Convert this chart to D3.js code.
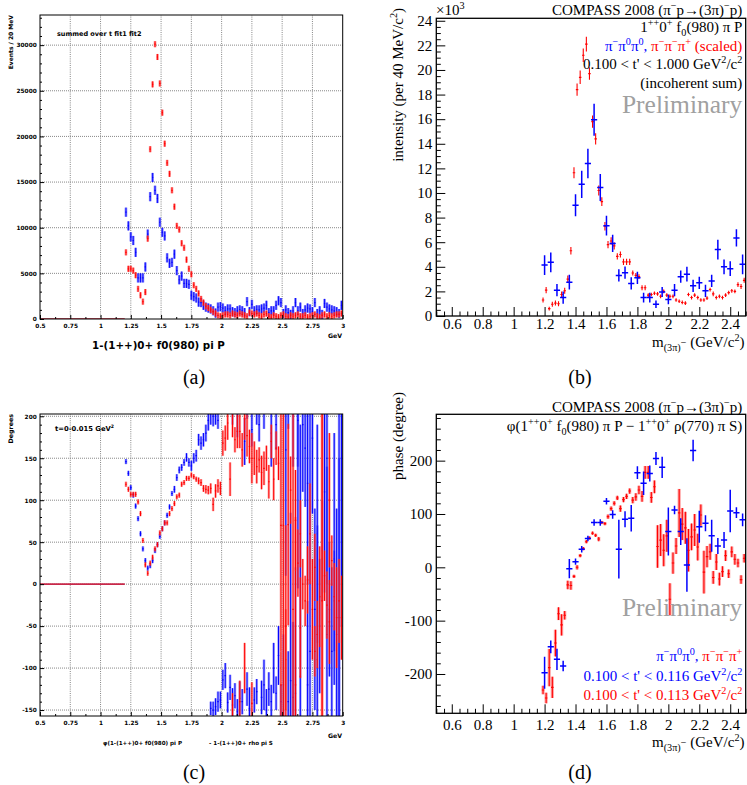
<!DOCTYPE html>
<html><head><meta charset="utf-8">
<script src="https://cdn.jsdelivr.net/npm/d3@7"></script>
<style>body{margin:0;background:#fff;} svg{display:block;}</style>
</head><body>
<script>
// ================= DATA =================
// Panel (a): intensity, 20 MeV bins starting at 1.21 GeV (values in thousands of events)
const binA = {start: 1.21, width: 0.02};
const aBlue = [11.7,10.2,9.0,8.6,7.3,4.5,4.5,4.5,5.7,9.3,
  13.4,15.5,14.1,13.2,10.6,9.5,9.1,6.7,6.1,6.2,
  7.1,5.3,4.3,4.7,3.9,3.9,3.8,2.6,2.45,2.3,
  1.85,1.8,1.5,1.3,1.2,1.1,0.9,0.65,1.3,1.35,
  1.2,0.9,1.1,1.1,0.8,0.7,0.9,1.0,0.9,0.7,
  1.9,0.8,1.6,0.9,1.0,1.0,1.1,1.2,1.5,0.7,
  0.9,0.9,1.5,2.0,1.8,0.6,1.0,0.7,0.5,0.9,
  1.8,0.9,1.3,0.6,1.0,1.2,1.1,0.8,1.8,0.6,
  0.9,0.5,1.7,1.3,1.1,1.0,0.9,0.8,0.6,1.5];
const aRed = [7.3,5.5,5.5,5.3,4.8,3.3,2.6,1.9,2.95,8.8,
  18.6,25.7,30.1,28.7,25.8,22.6,19.2,17.1,15.9,14.1,
  12.3,10.2,9.8,8.3,7.8,6.5,5.5,4.9,3.7,3.3,
  2.8,2.2,1.8,1.4,1.2,1.0,0.8,0.6,0.4,0.3,
  0.4,0.5,0.5,0.4,0.6,0.5,0.4,0.6,0.5,0.4,
  0.3,0.7,0.6,0.5,0.6,0.4,0.3,0.5,0.6,0.3,
  0.2,0.4,0.3,0.2,0.4,0.5,0.3,0.2,0.4,0.3,
  0.4,0.5,0.3,0.3,0.4,0.2,0.3,0.4,0.5,0.3,
  0.2,0.4,0.5,0.3,0.4,0.3,0.4,0.5,0.5,0.6];
const aBlueErr = 0.5, aRedErr = 0.33;
const zeroRange = [0.5, 1.2];
const rootXTicks = [0.5,0.75,1,1.25,1.5,1.75,2,2.25,2.5,2.75,3];
const rootXMinor = [0.625,0.875,1.125,1.375,1.625,1.875,2.125,2.375,2.625,2.875];
const aYTicks = [0,5,10,15,20,25,30];
const aYMinor = [1,2,3,4,6,7,8,9,11,12,13,14,16,17,18,19,21,22,23,24,26,27,28,29,31,32,33];

// Panel (c): phase, same 20 MeV bins (degrees)
const cBlue = [146,132,115,106,93,78,60,42,28,19,
  22,28,40,47,57,66,73,82,92,108,
  113,127,136,139,145,151,145,141,150,153,
  172,168,172,180,195,-148,-150,-146,-140,-138,
  -114,-109,-141,-123,-144,-133,-152,-136,-140,170,
  -125,-148,184,-138,-128,190,-135,-120,-150,-125,
  -140,-100,-130,-85,-140,-120,160,-140,-115,-135,
  -130,195,-110,190,162,-120,-80,174,-30,-90,
  -50,40,110,-60,-30,-80,-20,-60,-40,150];
const cBlueErr = [3,3,3,3,3,3,3,3,3,3,
  3,3,3,3,3,3,3,3,3,3,
  4,4,4,4,4,5,5,6,6,7,
  7,8,8,10,12,8,10,10,12,10,
  12,15,12,15,20,15,15,20,15,28,
  20,25,20,15,15,20,20,30,25,20,
  20,30,20,35,20,60,150,60,200,90,
  150,200,300,80,70,100,300,90,120,160,
  80,60,120,200,80,100,60,150,300,200];
const cRed = [119,113,107,107,107,98,84,52,23,13,
  25,32,42,47,61,66,73,73,84,90,
  96,104,106,119,121,126,126,130,128,125,
  123,121,114,113,112,114,95,111,117,114,
  168,174,192,125,200,172,182,182,160,197,
  177,164,150,150,140,148,133,138,150,122,
  170,125,162,144,-120,70,-50,71,112,-30,
  76,25,-52,0,-20,5,60,-30,20,-60,
  -15,-20,10,-25,-45,28,-15,-40,-20,-40];
const cRedErr = [3,3,3,3,3,3,3,3,3,3,
  3,3,3,3,3,3,3,3,3,3,
  3,3,3,3,3,3,3,3,3,3,
  4,4,4,5,5,6,8,8,8,8,
  15,15,20,20,25,15,20,20,20,25,
  25,20,30,20,20,15,20,20,15,20,
  20,25,20,20,40,250,120,120,40,250,
  60,40,60,30,30,40,60,60,40,40,
  60,250,30,40,50,30,40,60,50,50];
const cBlueExtraMass = [1.91,1.93,1.95,1.97,2.09,2.13,2.21,2.29,2.35,2.41,2.45,2.55,2.59,2.63,2.71,2.79,2.87,2.93,2.97];
const cBlueExtraVal  = [205,200,210,195,215,205,212,205,215,180,190,215,200,220,120,60,150,30,-20];
const cBlueExtraErr  = [15,12,20,10,25,30,15,15,30,40,30,30,60,80,120,130,150,150,170];
const cRedExtraMass = [2.09,2.15,2.19,2.25,2.49,2.53,2.61,2.65,2.77,2.83,2.89];
const cRedExtraVal  = [-150,-140,-100,-142,70,-90,-120,60,-80,30,100];
const cRedExtraErr  = [20,25,30,25,150,60,200,40,30,250,80];
const cYTicks = [-150,-100,-50,0,50,100,150,200];
const cYMinor = [-140,-130,-120,-110,-90,-80,-70,-60,-40,-30,-20,-10,10,20,30,40,60,70,80,90,110,120,130,140,160,170,180,190];

// Panels (b),(d): blue = pi- pi0 pi0 (40 MeV bins from 1.20), red = pi- pi- pi+ (20 MeV bins from 1.19)
const binBlue = {start: 1.20, width: 0.04};
const binRed  = {start: 1.19, width: 0.02};
const bBlue = [4.14,4.36,2.1,1.5,2.75,9.0,10.7,12.4,15.95,10.45,7.34,5.9,3.3,3.52,2.65,3.1,1.5,1.5,0.95,1.95,1.35,2.1,3.2,3.4,2.45,2.7,2.05,2.85,5.4,4.0,3.85,6.35,4.2];
const bBlueErr = [0.8,0.8,0.5,0.5,0.6,0.9,1.1,1.2,1.3,1.1,0.8,0.7,0.5,0.5,0.5,0.5,0.4,0.4,0.3,0.4,0.4,0.5,0.5,0.6,0.5,0.5,0.5,0.5,0.8,0.6,0.6,0.7,0.8];
const bRed = [1.3,2.1,0.6,0.95,1.05,1.0,1.75,2.05,3.0,5.3,
  11.65,18.4,19.4,21.2,22.1,19.7,15.8,14.4,10.2,9.3,
  7.3,5.8,6.1,5.7,4.85,5.0,4.4,4.4,4.4,3.5,
  3.3,3.2,2.3,2.3,1.7,1.75,1.85,1.8,1.6,2.0,
  1.7,1.6,1.6,1.3,1.2,1.1,1.05,1.75,1.5,1.7,
  1.5,1.3,1.3,1.45,2.15,1.8,1.5,1.6,1.5,1.7,
  1.9,2.05,2.0,2.55,2.4,2.9];
const bRedErr = [0.2,0.25,0.15,0.2,0.2,0.2,0.25,0.25,0.3,0.3,
  0.45,0.5,0.55,0.55,0.6,0.5,0.5,0.45,0.4,0.35,
  0.35,0.3,0.3,0.3,0.25,0.25,0.25,0.25,0.25,0.2,
  0.2,0.2,0.2,0.2,0.15,0.15,0.15,0.15,0.15,0.15,
  0.15,0.15,0.15,0.15,0.15,0.15,0.15,0.15,0.15,0.15,
  0.15,0.15,0.15,0.15,0.15,0.2,0.15,0.15,0.15,0.15,
  0.15,0.15,0.15,0.2,0.2,0.2];
const dBlue = [-197.5,-149,-172.5,-185,-2.5,10.6,34,54,84,84,124,99,34,90,92,177.5,157.5,176,204,187.5,67,107.5,67,4.4,219,76,82.5,59,40,51,105.6,102.5,89];
const dBlueErr = [30,12,20,10,18,6,6,5,6,6,6,8,55,15,25,12,22,15,12,20,45,8,25,50,20,30,15,30,15,15,40,10,12];
const dRed = [-230,-245,-188,-225,-142,-87,-108,-90,-33,-34,
  -17,0,22,35,48,55,64,60,53,84,
  82,95,110,120,130,110,127,133,143,126,
  132,145,133,178,178,131,151,39,51,32,
  59,-60,8,40,102,81,74,32,57,70,
  38,98,-9,20,29,-19,10,-22,-8,22,
  -12,29,15,8,-23,17];
const dRedErr = [8,10,35,20,25,12,20,8,8,8,
  3,4,3,3,3,3,3,3,4,3,
  3,4,4,4,4,6,5,5,5,6,
  7,8,10,12,12,10,12,40,30,30,
  30,30,20,15,45,30,30,40,25,30,
  25,20,40,20,15,12,15,12,10,10,
  8,10,10,8,8,8];
const bdXTicks = [0.6,0.8,1,1.2,1.4,1.6,1.8,2,2.2,2.4];
const bdXMinor = [0.5,0.55,0.65,0.7,0.75,0.85,0.9,0.95,1.05,1.1,1.15,1.25,1.3,1.35,1.45,1.5,1.55,1.65,1.7,1.75,1.85,1.9,1.95,2.05,2.1,2.15,2.25,2.3,2.35,2.45,2.5];
const bYTicks = [0,2,4,6,8,10,12,14,16,18,20,22,24];
const bYMinor = [0.5,1,1.5,2.5,3,3.5,4.5,5,5.5,6.5,7,7.5,8.5,9,9.5,10.5,11,11.5,12.5,13,13.5,14.5,15,15.5,16.5,17,17.5,18.5,19,19.5,20.5,21,21.5,22.5,23,23.5];
const dYTicks = [-200,-100,0,100,200];
const dYMinor = [-260,-240,-220,-180,-160,-140,-120,-80,-60,-40,-20,20,40,60,80,120,140,160,180,220,240,260,280];

// ================= DRAWING =================
const W = 747, H = 785;
const SERIF = "'Liberation Serif','Times New Roman',serif";
const SANS = "'DejaVu Sans',sans-serif";
const BLUE = '#0000ff', RED = '#ff0000';
const svg = d3.select('body').append('svg').attr('width', W).attr('height', H)
  .style('background', '#fff');
const defs = svg.append('defs');

function pts(bin, vals, errs) {
  return vals.map((v, i) => ({m: bin.start + bin.width * i, v, e: Array.isArray(errs) ? errs[i] : errs}));
}
function ptsM(ms, vals, errs) { return vals.map((v, i) => ({m: ms[i], v, e: errs[i]})); }

function clipG(id, xs, ys) {
  const [x0, x1] = xs.range(), [y0, y1] = ys.range();
  defs.append('clipPath').attr('id', id).append('rect')
    .attr('x', x0).attr('y', y1).attr('width', x1 - x0).attr('height', y0 - y1);
  return svg.append('g').attr('clip-path', `url(#${id})`);
}

function drawPts(g, xs, ys, data, st) {
  const gg = g.append('g');
  if (st.light) gg.selectAll(null).data(data).join('rect')
    .attr('x', d => xs(d.m) - st.bandW / 2).attr('width', st.bandW)
    .attr('y', d => ys(d.v + d.e)).attr('height', d => Math.max(0.6, ys(d.v - d.e) - ys(d.v + d.e)))
    .attr('fill', st.light).attr('opacity', st.lightOp || 1);
  gg.selectAll(null).data(data).join('line')
    .attr('x1', d => xs(d.m)).attr('x2', d => xs(d.m))
    .attr('y1', d => ys(d.v + d.e)).attr('y2', d => ys(d.v - d.e))
    .attr('stroke', st.color).attr('stroke-width', st.lw);
  if (st.hw) gg.selectAll(null).data(data).join('line')
    .attr('x1', d => xs(d.m - st.hw)).attr('x2', d => xs(d.m + st.hw))
    .attr('y1', d => ys(d.v)).attr('y2', d => ys(d.v))
    .attr('stroke', st.color).attr('stroke-width', st.hlw || st.lw);
}

function rich(x, y, segs, o) {
  const t = svg.append('text').attr('x', x).attr('y', y)
    .attr('text-anchor', o.anchor || 'start').attr('font-family', o.family)
    .attr('font-size', o.size).attr('fill', o.fill || '#000');
  if (o.weight) t.attr('font-weight', o.weight);
  if (o.rotate) t.attr('transform', `rotate(${o.rotate},${x},${y})`);
  let cur = 0;
  segs.forEach(s => {
    const seg = typeof s === 'string' ? {t: s} : s;
    let target = seg.sup ? -o.size * 0.4 : seg.sub ? o.size * 0.25 : 0;
    if (seg.shift != null) target = seg.shift * o.size;
    const ts = t.append('tspan').text(seg.t).attr('dy', target - cur);
    cur = target;
    if (seg.sup || seg.sub || seg.small) ts.attr('font-size', o.size * 0.68);
    if (seg.fill) ts.attr('fill', seg.fill);
  });
  return t;
}
const SUP = (s, fill) => ({t: s, sup: true, fill});
const SUB = (s, fill) => ({t: s, sub: true, fill});
const T = (s, fill) => ({t: s, fill});

// ---------- ROOT style panels (a), (c) ----------
function rootGrid(xs, ys, yTicks) {
  const [x0, x1] = xs.range(), [y0, y1] = ys.range();
  const g = svg.append('g');
  g.selectAll(null).data(rootXTicks.filter(v => xs(v) > x0 + 1 && xs(v) < x1 - 1)).join('line')
    .attr('x1', d => xs(d)).attr('x2', d => xs(d)).attr('y1', y0).attr('y2', y1)
    .attr('stroke', '#666').attr('stroke-width', 0.8).attr('stroke-dasharray', '1,1.2');
  g.selectAll(null).data(yTicks.filter(v => ys(v) < y0 - 1 && ys(v) > y1 + 0.5)).join('line')
    .attr('x1', x0).attr('x2', x1).attr('y1', d => ys(d)).attr('y2', d => ys(d))
    .attr('stroke', '#888').attr('stroke-width', 1).attr('stroke-dasharray', '1,1');
}
function rootAxes(xs, ys, yTicks, yMinor, yFmt, xPad) {
  const [x0, x1] = xs.range(), [y0, y1] = ys.range();
  const style = s => s.attr('font-family', SANS).attr('font-weight', 'bold').attr('font-size', 5.8)
    .call(q => q.select('.domain').remove());
  svg.append('g').attr('transform', `translate(0,${y0})`)
    .call(d3.axisBottom(xs).tickValues(rootXTicks).tickSizeInner(-4).tickSizeOuter(0).tickPadding(xPad).tickFormat(d => String(d)))
    .call(style);
  svg.append('g').attr('transform', `translate(0,${y0})`)
    .call(d3.axisBottom(xs).tickValues(rootXMinor).tickSizeInner(-2).tickSizeOuter(0).tickFormat(''))
    .call(style);
  svg.append('g').attr('transform', `translate(${x0},0)`)
    .call(d3.axisLeft(ys).tickValues(yTicks).tickSizeInner(-4).tickSizeOuter(0).tickPadding(3.3).tickFormat(yFmt))
    .call(style);
  svg.append('g').attr('transform', `translate(${x0},0)`)
    .call(d3.axisLeft(ys).tickValues(yMinor).tickSizeInner(-2).tickSizeOuter(0).tickFormat(''))
    .call(style);
  svg.append('rect').attr('x', x0).attr('y', y1).attr('width', x1 - x0).attr('height', y0 - y1)
    .attr('fill', 'none').attr('stroke', '#000').attr('stroke-width', 1);
}

// ---------- Panel (a) ----------
{
  const xs = d3.scaleLinear().domain([0.5, 3]).range([40, 342.7]);
  const ys = d3.scaleLinear().domain([0, 33.3]).range([319, 15]);
  rootGrid(xs, ys, aYTicks);
  const g = clipG('clipA', xs, ys);
  g.append('line').attr('x1', xs(zeroRange[0])).attr('x2', xs(zeroRange[1]))
    .attr('y1', ys(0)).attr('y2', ys(0)).attr('stroke', '#d0203a').attr('stroke-width', 1.6);
  drawPts(g, xs, ys, pts(binA, aBlue, aBlueErr), {color: BLUE, lw: 0.9, light: '#5a5aff', lightOp: 0.75, bandW: 2.6, hw: 0.005, hlw: 1.2});
  drawPts(g, xs, ys, pts(binA, aRed, aRedErr), {color: RED, lw: 0.9, light: '#ff5a5a', lightOp: 0.75, bandW: 2.6, hw: 0.005, hlw: 1.2});
  rootAxes(xs, ys, aYTicks, aYMinor, d => String(d * 1000), 4.6);
  rich(57, 35.5, ['summed over t fit1 fit2'], {family: SANS, size: 6.5, weight: 'bold'});
  rich(13.2, 15, ['Events / 20 MeV'], {family: SANS, size: 6, weight: 'bold', anchor: 'end', rotate: -90});
  rich(342, 338, ['GeV'], {family: SANS, size: 6.2, weight: 'bold', anchor: 'end'});
  rich(158.5, 348.8, ['1-(1++)0+ f0(980) pi P'], {family: SANS, size: 10.3, weight: 'bold', anchor: 'middle'});
  rich(194, 384, ['(a)'], {family: SERIF, size: 20, anchor: 'middle'});
}

// ---------- Panel (c) ----------
{
  const xs = d3.scaleLinear().domain([0.5, 3]).range([40, 342.7]);
  const ys = d3.scaleLinear().domain([-157.1, 202.7]).range([716, 414]);
  rootGrid(xs, ys, cYTicks);
  const g = clipG('clipC', xs, ys);
  g.append('line').attr('x1', xs(zeroRange[0])).attr('x2', xs(zeroRange[1]))
    .attr('y1', ys(0)).attr('y2', ys(0)).attr('stroke', '#c8284a').attr('stroke-width', 1.6);
  const stB = {color: BLUE, lw: 1, light: '#6a6aff', lightOp: 0.6, bandW: 2.6, hw: 0.006, hlw: 1.2};
  const stR = {color: RED, lw: 1, light: '#ff6a6a', lightOp: 0.55, bandW: 2.6, hw: 0.006, hlw: 1.2};
  drawPts(g, xs, ys, ptsM(cBlueExtraMass, cBlueExtraVal, cBlueExtraErr), stB);
  drawPts(g, xs, ys, pts(binA, cBlue, cBlueErr), stB);
  drawPts(g, xs, ys, ptsM(cRedExtraMass, cRedExtraVal, cRedExtraErr), stR);
  drawPts(g, xs, ys, pts(binA, cRed, cRedErr), stR);
  rootAxes(xs, ys, cYTicks, cYMinor, d => String(d), 5.2);
  rich(55, 431, ['t=0-0.015 GeV', SUP('2')], {family: SANS, size: 6.8, weight: 'bold'});
  rich(13.2, 414, ['Degrees'], {family: SANS, size: 6.3, weight: 'bold', anchor: 'end', rotate: -90});
  rich(342, 737.5, ['GeV'], {family: SANS, size: 6.2, weight: 'bold', anchor: 'end'});
  rich(103, 744.5, ['φ(1-(1++)0+ f0(980) pi P'], {family: SANS, size: 5.6, weight: 'bold'});
  rich(209, 744.5, ['- 1-(1++)0+ rho pi S'], {family: SANS, size: 5.6, weight: 'bold'});
  rich(194, 779, ['(c)'], {family: SERIF, size: 20, anchor: 'middle'});
}

// ---------- COMPASS style panels (b), (d) ----------
function compassAxes(xs, ys, yTicks, yMinor, xPad) {
  const [x0, x1] = xs.range(), [y0, y1] = ys.range();
  const style = s => s.attr('font-family', SERIF).attr('font-size', 15)
    .call(q => q.select('.domain').remove())
    .call(q => q.selectAll('line').attr('stroke-width', 1));
  svg.append('g').attr('transform', `translate(0,${y0})`)
    .call(d3.axisBottom(xs).tickValues(bdXTicks).tickSizeInner(-9).tickSizeOuter(0).tickPadding(xPad).tickFormat(d => String(d)))
    .call(style);
  svg.append('g').attr('transform', `translate(0,${y0})`)
    .call(d3.axisBottom(xs).tickValues(bdXMinor).tickSizeInner(-4.5).tickSizeOuter(0).tickFormat(''))
    .call(style);
  svg.append('g').attr('transform', `translate(${x0},0)`)
    .call(d3.axisLeft(ys).tickValues(yTicks).tickSizeInner(-9).tickSizeOuter(0).tickPadding(4).tickFormat(d => String(d)))
    .call(style);
  svg.append('g').attr('transform', `translate(${x0},0)`)
    .call(d3.axisLeft(ys).tickValues(yMinor).tickSizeInner(-4.5).tickSizeOuter(0).tickFormat(''))
    .call(style);
  svg.append('rect').attr('x', x0).attr('y', y1).attr('width', x1 - x0).attr('height', y0 - y1)
    .attr('fill', 'none').attr('stroke', '#000').attr('stroke-width', 1.3);
}
const TX = 742.3;
const tb = {family: SERIF, size: 15, anchor: 'end'};
function mTitle(y) {
  rich(744.5, y, ['m', SUB('(3π)'), {t: '−', shift: -0.05, small: true}, ' (GeV/c', SUP('2'), ')'], tb);
}
function compassHeader(y) {
  rich(TX, y, ['COMPASS 2008 (π', SUP('−'), 'p→(3π)', SUP('−'), 'p)'], tb);
}

// ---------- Panel (b) ----------
{
  const xs = d3.scaleLinear().domain([0.5, 2.5]).range([436.3, 745.7]);
  const ys = d3.scaleLinear().domain([0, 24.2]).range([316, 18.3]);
  const g = clipG('clipB', xs, ys);
  drawPts(g, xs, ys, pts(binRed, bRed, bRedErr), {color: RED, lw: 1.1, hw: 0.008, hlw: 1.1});
  drawPts(g, xs, ys, pts(binBlue, bBlue, bBlueErr), {color: BLUE, lw: 1.5, hw: 0.02, hlw: 1.5});
  compassAxes(xs, ys, bYTicks, bYMinor, 2);
  compassHeader(15);
  rich(TX, 32, ['1', SUP('++'), '0', SUP('+'), ' f', SUB('0'), '(980) π P'], tb);
  rich(TX, 51, [T('π', BLUE), SUP('−', BLUE), T('π', BLUE), SUP('0', BLUE), T('π', BLUE), SUP('0', BLUE), T(', ', BLUE),
    T('π', RED), SUP('−', RED), T('π', RED), SUP('−', RED), T('π', RED), SUP('+', RED), T(' (scaled)', RED)], tb);
  rich(TX, 69, ["0.100 < t' < 1.000 GeV", SUP('2'), '/c', SUP('2')], tb);
  rich(TX, 87.5, ['(incoherent sum)'], tb);
  rich(TX, 113, ['Preliminary'], {family: SERIF, size: 25.5, anchor: 'end', fill: '#a0a0a0'});
  rich(436, 15, ['×10', SUP('3')], {family: SERIF, size: 15});
  rich(403, 8, ['intensity (per 40 MeV/c', SUP('2'), ')'], {family: SERIF, size: 15, anchor: 'end', rotate: -90});
  mTitle(347);
  rich(580, 384, ['(b)'], {family: SERIF, size: 20, anchor: 'middle'});
}

// ---------- Panel (d) ----------
{
  const xs = d3.scaleLinear().domain([0.5, 2.5]).range([436.3, 745.7]);
  const ys = d3.scaleLinear().domain([-273.7, 286.9]).range([713.3, 414.3]);
  const g = clipG('clipD', xs, ys);
  drawPts(g, xs, ys, pts(binRed, dRed, dRedErr), {color: RED, lw: 1.1, hw: 0.008, hlw: 1.1, light: '#ff8c8c', lightOp: 0.8, bandW: 3.2});
  drawPts(g, xs, ys, pts(binBlue, dBlue, dBlueErr), {color: BLUE, lw: 1.5, hw: 0.02, hlw: 1.5});
  compassAxes(xs, ys, dYTicks, dYMinor, 6);
  compassHeader(412);
  rich(TX, 431, ['φ(1', SUP('++'), '0', SUP('+'), ' f', SUB('0'), '(980) π P − 1', SUP('++'), '0', SUP('+'), ' ρ(770) π S)'], tb);
  rich(TX, 616, ['Preliminary'], {family: SERIF, size: 25.5, anchor: 'end', fill: '#a0a0a0'});
  rich(TX, 661, [T('π', BLUE), SUP('−', BLUE), T('π', BLUE), SUP('0', BLUE), T('π', BLUE), SUP('0', BLUE), T(', ', BLUE),
    T('π', RED), SUP('−', RED), T('π', RED), SUP('−', RED), T('π', RED), SUP('+', RED)], tb);
  rich(TX, 681, ["0.100 < t' < 0.116 GeV", SUP('2'), '/c', SUP('2')], Object.assign({}, tb, {fill: BLUE}));
  rich(TX, 700, ["0.100 < t' < 0.113 GeV", SUP('2'), '/c', SUP('2')], Object.assign({}, tb, {fill: RED}));
  rich(403, 392, ['phase (degree)'], {family: SERIF, size: 15, anchor: 'end', rotate: -90});
  mTitle(747);
  rich(580, 779, ['(d)'], {family: SERIF, size: 20, anchor: 'middle'});
}
</script>
</body></html>
